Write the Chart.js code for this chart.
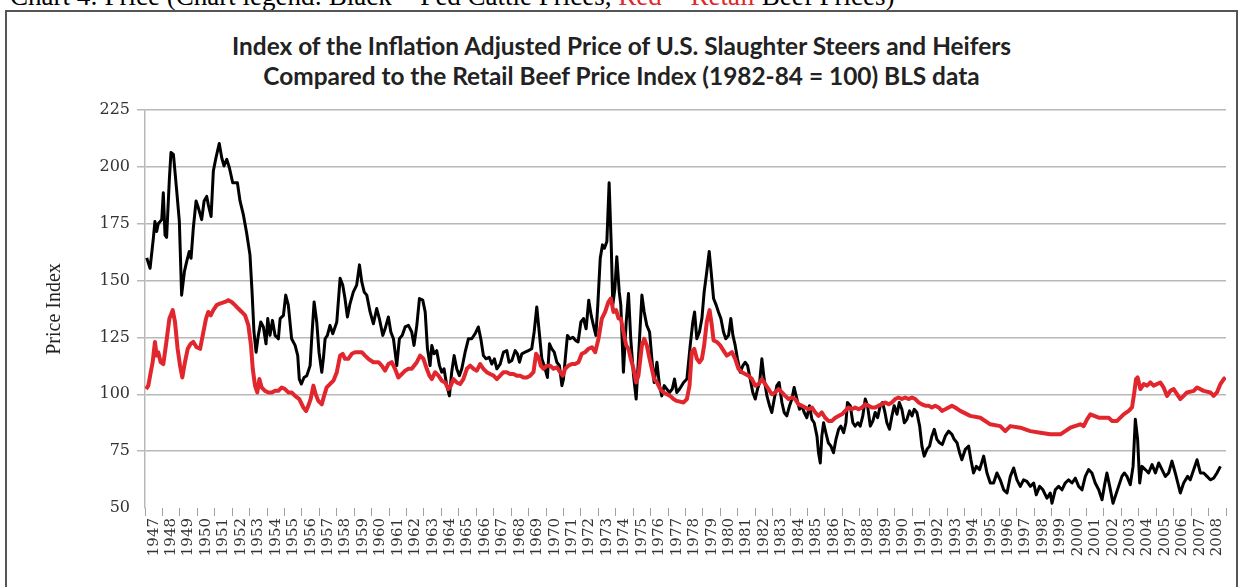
<!DOCTYPE html>
<html><head><meta charset="utf-8">
<script src="https://cdn.jsdelivr.net/npm/chart.js@4.4.0/dist/chart.umd.min.js"></script>
<style>
html,body{margin:0;padding:0;background:#fff;width:1243px;height:587px;overflow:hidden;position:relative;}
#topline{position:absolute;left:10px;top:-19px;font:27px "Liberation Serif";white-space:nowrap;color:#000;}
#topline .r{color:#e2262d;}
#frame{position:absolute;left:5px;top:10px;width:1233px;height:620px;border:2px solid #555;box-sizing:border-box;}
#title{position:absolute;left:0;width:1243px;top:31px;text-align:center;font:700 24.4px Lato;color:#222;line-height:30px;}
#c{position:absolute;left:0;top:0;}
</style></head>
<body>
<div id="topline">Chart 4: Price (Chart legend: Black = Fed Cattle Prices, <span class="r">Red = Retail</span> Beef Prices)</div>
<div id="frame"></div>
<div id="title">Index of the Inflation Adjusted Price of U.S. Slaughter Steers and Heifers<br>Compared to the Retail Beef Price Index (1982-84 = 100) BLS data</div>
<canvas id="c" width="1243" height="587"></canvas>
<script>
const yearLabels = [];
for (let y = 1947; y <= 2008; y++) yearLabels.push(String(y));
const yTicks = [50, 75, 100, 125, 150, 175, 200, 225];

// Black series: inflation adjusted price of slaughter steers and heifers
const fedYears = [1947.10,1947.29,1947.48,1947.57,1947.67,1947.76,1947.96,1948.05,1948.15,1948.24,1948.40,1948.49,1948.63,1948.82,1948.97,1949.10,1949.26,1949.39,1949.54,1949.64,1949.77,1949.93,1950.06,1950.25,1950.39,1950.54,1950.63,1950.79,1950.92,1951.07,1951.26,1951.40,1951.53,1951.69,1951.84,1952.03,1952.30,1952.45,1952.64,1952.83,1953.02,1953.14,1953.25,1953.37,1953.50,1953.64,1953.79,1953.94,1954.04,1954.17,1954.31,1954.46,1954.65,1954.75,1954.94,1955.07,1955.22,1955.41,1955.61,1955.76,1955.85,1955.97,1956.12,1956.28,1956.47,1956.56,1956.70,1956.85,1956.98,1957.14,1957.23,1957.33,1957.46,1957.61,1957.77,1958.00,1958.19,1958.34,1958.47,1958.61,1958.76,1958.95,1959.14,1959.30,1959.43,1959.57,1959.72,1959.91,1960.10,1960.29,1960.44,1960.64,1960.77,1960.96,1961.10,1961.25,1961.44,1961.59,1961.75,1961.92,1962.11,1962.30,1962.43,1962.59,1962.74,1962.93,1963.07,1963.20,1963.35,1963.45,1963.58,1963.73,1963.89,1964.02,1964.15,1964.31,1964.46,1964.59,1964.73,1964.88,1965.03,1965.17,1965.36,1965.55,1965.74,1965.93,1966.12,1966.26,1966.41,1966.56,1966.74,1966.89,1967.04,1967.18,1967.37,1967.56,1967.75,1967.88,1968.04,1968.23,1968.36,1968.48,1968.61,1968.80,1968.99,1969.18,1969.32,1969.47,1969.61,1969.76,1969.95,1970.08,1970.20,1970.33,1970.47,1970.62,1970.77,1970.91,1971.00,1971.12,1971.23,1971.38,1971.54,1971.69,1971.84,1972.00,1972.15,1972.30,1972.45,1972.59,1972.72,1972.86,1972.97,1973.11,1973.24,1973.35,1973.49,1973.62,1973.74,1973.83,1973.95,1974.06,1974.20,1974.29,1974.44,1974.60,1974.73,1974.86,1975.02,1975.17,1975.30,1975.50,1975.63,1975.78,1975.94,1976.07,1976.20,1976.36,1976.51,1976.64,1976.78,1976.93,1977.08,1977.24,1977.37,1977.50,1977.66,1977.89,1978.08,1978.27,1978.42,1978.52,1978.65,1978.80,1978.94,1979.07,1979.22,1979.36,1979.47,1979.61,1979.76,1979.89,1980.03,1980.18,1980.31,1980.47,1980.60,1980.72,1980.85,1980.98,1981.14,1981.29,1981.42,1981.56,1981.71,1981.86,1982.00,1982.13,1982.25,1982.38,1982.51,1982.67,1982.82,1982.95,1983.09,1983.24,1983.37,1983.53,1983.66,1983.81,1983.97,1984.10,1984.23,1984.39,1984.54,1984.67,1984.81,1984.96,1985.11,1985.25,1985.38,1985.54,1985.63,1985.73,1985.82,1985.92,1986.05,1986.19,1986.34,1986.49,1986.63,1986.78,1986.91,1987.07,1987.20,1987.29,1987.45,1987.60,1987.73,1987.89,1988.02,1988.17,1988.31,1988.44,1988.60,1988.75,1988.88,1989.02,1989.17,1989.30,1989.44,1989.55,1989.70,1989.84,1989.97,1990.13,1990.26,1990.41,1990.55,1990.70,1990.85,1990.99,1991.12,1991.27,1991.43,1991.56,1991.69,1991.85,1992.00,1992.13,1992.27,1992.42,1992.57,1992.73,1992.90,1993.09,1993.28,1993.41,1993.57,1993.72,1993.85,1994.05,1994.24,1994.37,1994.52,1994.68,1994.87,1995.10,1995.29,1995.48,1995.67,1995.86,1996.05,1996.25,1996.44,1996.63,1996.82,1997.01,1997.20,1997.39,1997.58,1997.78,1997.97,1998.12,1998.31,1998.50,1998.73,1998.92,1999.02,1999.21,1999.40,1999.59,1999.78,1999.97,2000.17,2000.36,2000.55,2000.74,2000.93,2001.12,2001.31,2001.50,2001.70,2001.89,2002.02,2002.17,2002.33,2002.52,2002.65,2002.84,2003.03,2003.17,2003.32,2003.51,2003.67,2003.80,2003.93,2004.05,2004.18,2004.37,2004.56,2004.76,2004.95,2005.14,2005.33,2005.52,2005.71,2005.90,2006.09,2006.38,2006.57,2006.80,2006.95,2007.15,2007.34,2007.53,2007.72,2007.91,2008.10,2008.29,2008.48,2008.68];
const fedValues = [160,155.4,168.7,176,171.6,175,176.8,188.6,170,169,195,206.3,205.5,189.3,176,143.6,153.9,158.3,162.8,159.8,173,185,182,176.8,185,187,183.4,178.2,198.2,204,210.3,204,200.4,203.3,199.6,193,193,185,179,170.9,161.3,145,127.4,118.5,125.9,131.8,129.6,122.2,133.3,125.9,132.5,125.9,124.4,133.3,134.7,143.6,139.2,124.4,121.5,117,106.7,104.5,107.4,108.2,112.6,124.4,140.6,131.8,118.5,109.7,115.6,124.4,125.9,130.3,126.6,131.8,151,148,142.1,134,139.9,145,148,156.9,149.5,145,143.6,136.2,131,137.7,133.3,125.9,128.8,134,127.4,124.4,112.6,124.4,125.9,129.6,130.3,127.4,121.5,130.3,142.1,141.4,136.2,120,112.6,121.5,117.8,119.2,112.6,109.7,111.2,103.8,99.3,109.7,117,111.2,108.2,111.2,118.5,124.4,124.4,126.6,129.6,124.4,117,115.6,116.3,113.3,115.6,111.2,113.3,118.5,119.2,114.1,114.9,119.2,117.8,114.1,117.8,118.5,119.2,120,127.4,138.4,127.4,115.6,111.2,107.4,122.2,120,118.5,114.1,112.6,103.8,106.7,117,125.9,124.4,125.1,123.7,123,131.8,133.3,128.8,141.4,134.7,130.3,125.9,139.2,159.8,165.7,164.2,167.2,193,165.7,139.2,146.5,160.5,145,139.2,109.7,131.8,144.3,124.4,108.2,97.9,115.6,143.6,136.2,130.3,127.4,115.6,105.2,114.1,103.8,99.3,103.8,102.3,100.8,102.3,106.7,100.8,102.3,105.2,106.7,121.5,131.8,136.2,124.4,127.4,133.3,145,153.9,162.8,153.9,142.1,139.2,136.2,133.3,127.4,124.4,125.9,133.3,125.9,121.5,115.6,109.7,112.6,114.1,112.6,106.7,100.8,97.9,102.3,105.2,115.6,106.7,99.3,95,92,97.9,103.8,105.2,96.4,92,90.5,95,97.9,103,97.9,93.4,95,92,89.7,95,89,87.5,81.6,74.3,69.8,81.6,87.5,83.1,78.7,77.2,74.3,80.2,84.6,86,83.1,87.5,96.4,95,87.5,86,87.5,86,90.5,97.9,95,86,88.3,92,89.7,95,96.4,92,87.5,84.6,90.5,95,91.2,96.4,93.4,87.5,89,92.7,90.5,93.4,92,86,77.2,72.8,75.8,77.2,81.6,84.6,80.2,78.7,77.9,81.6,83.8,82.4,80.2,78.7,74.3,71.2,75.8,77.2,71.2,65.4,68.3,66.9,72.8,65.4,61,61,65.4,62.4,58,56.6,63.9,67.6,62.4,59.5,62.4,61.7,59.5,61,55.8,59.5,58,54.3,56.6,52.1,58,59.5,58,61,62.4,61,63.1,59.5,58,63.9,66.9,65.4,61,58,53.6,59.5,65.4,59.5,52.1,55.1,59.5,63.9,65.4,63.9,60.2,68.3,89,80.2,61,68.3,66.9,65.4,69.1,65.4,69.8,66.9,63.9,65.4,70.6,65.4,56.6,61,63.9,62.4,66.9,71.2,65.4,65.4,63.9,62.4,63.1,65.4,68.3];

// Red series: retail beef price index
const retailYears = [1947.06,1947.19,1947.33,1947.44,1947.57,1947.67,1947.76,1947.90,1948.05,1948.20,1948.40,1948.59,1948.72,1948.87,1949.01,1949.14,1949.29,1949.45,1949.62,1949.77,1949.96,1950.16,1950.35,1950.50,1950.63,1950.77,1950.92,1951.11,1951.30,1951.59,1951.78,1951.97,1952.16,1952.35,1952.55,1952.74,1952.93,1953.08,1953.18,1953.31,1953.44,1953.56,1953.69,1953.88,1954.08,1954.27,1954.46,1954.65,1954.84,1955.03,1955.22,1955.41,1955.61,1955.85,1956.08,1956.24,1956.37,1956.50,1956.66,1956.79,1956.94,1957.14,1957.27,1957.42,1957.61,1957.81,1958.00,1958.19,1958.34,1958.47,1958.66,1958.86,1959.05,1959.24,1959.43,1959.62,1959.81,1960.10,1960.39,1960.58,1960.77,1960.96,1961.15,1961.34,1961.53,1961.73,1961.92,1962.11,1962.30,1962.59,1962.78,1962.97,1963.16,1963.31,1963.45,1963.64,1963.83,1964.02,1964.21,1964.40,1964.54,1964.69,1964.88,1965.07,1965.26,1965.46,1965.65,1965.84,1966.03,1966.22,1966.41,1966.60,1966.79,1966.99,1967.18,1967.37,1967.56,1967.75,1967.94,1968.13,1968.32,1968.52,1968.71,1968.90,1969.09,1969.28,1969.43,1969.57,1969.70,1969.85,1970.05,1970.24,1970.43,1970.62,1970.81,1970.96,1971.10,1971.29,1971.48,1971.67,1971.86,1972.05,1972.24,1972.44,1972.63,1972.82,1973.01,1973.20,1973.39,1973.58,1973.72,1973.87,1974.02,1974.16,1974.29,1974.44,1974.60,1974.73,1974.86,1975.02,1975.17,1975.30,1975.50,1975.63,1975.78,1975.94,1976.07,1976.20,1976.36,1976.55,1976.74,1976.93,1977.12,1977.31,1977.50,1977.89,1978.08,1978.23,1978.36,1978.50,1978.65,1978.80,1978.94,1979.07,1979.22,1979.38,1979.51,1979.61,1979.80,1979.99,1980.18,1980.37,1980.52,1980.66,1980.85,1981.04,1981.23,1981.42,1981.61,1981.81,1982.00,1982.19,1982.38,1982.57,1982.76,1982.95,1983.14,1983.34,1983.53,1983.72,1983.91,1984.10,1984.29,1984.48,1984.67,1984.87,1985.06,1985.25,1985.44,1985.63,1985.82,1986.01,1986.20,1986.40,1986.59,1986.78,1986.97,1987.16,1987.35,1987.54,1987.73,1987.93,1988.12,1988.31,1988.50,1988.69,1988.88,1989.07,1989.26,1989.46,1989.65,1989.84,1990.03,1990.22,1990.41,1990.60,1990.79,1990.99,1991.18,1991.37,1991.56,1991.75,1991.94,1992.13,1992.32,1992.52,1992.71,1992.90,1993.09,1993.28,1993.47,1993.76,1994.33,1994.91,1995.48,1996.05,1996.34,1996.63,1997.20,1997.78,1998.35,1998.92,1999.50,1999.78,2000.07,2000.64,2000.84,2001.03,2001.22,2001.70,2002.27,2002.46,2002.75,2003.13,2003.42,2003.61,2003.74,2003.84,2003.93,2004.09,2004.28,2004.47,2004.66,2004.85,2005.23,2005.42,2005.62,2005.81,2006.00,2006.38,2006.57,2006.76,2007.15,2007.34,2007.72,2008.10,2008.29,2008.48,2008.68,2008.87,2008.97];
const retailValues = [102.3,103.8,109.7,114.1,123,117,118.5,114.1,113.3,121.5,133.3,137,131.8,120,112.6,107.4,114.1,120,122.2,123,120.7,120,127.4,133.3,136.2,134.7,137,139.2,139.9,140.6,141.4,140.6,139.2,137.7,136.2,134.7,130.3,121.5,111.2,103.8,100.8,106.7,103,101.5,100.8,100.8,101.5,101.5,103,102.3,100.8,100.8,99.3,97.9,94.2,92.7,95,97.9,103.8,100,97.1,95.6,99.3,103,104.5,106,109.7,117,117.8,115.6,115.6,117.8,118.5,118.5,118.5,117,115.6,114.1,114.1,112.6,110.4,113.3,114.1,111.2,107.4,108.9,110.4,111.2,111.2,114.1,117,115.6,111.2,108.2,106.7,109.7,108.2,106,105.2,102.3,103.8,106.7,105.2,104.5,106.7,111.2,112.6,111.2,110.4,113.3,111.2,109.7,108.9,108.2,106.7,108.2,109.7,109.7,108.9,108.9,108.2,108.2,107.4,107.4,108.2,109.7,117.8,116.3,112.6,111.2,112.6,112.6,111.2,111.9,109.7,108.2,111.2,112.6,113.3,113.3,114.1,117.8,118.5,120,120.7,118.5,124.4,133.3,136.2,140.6,142.1,136.2,137,133.3,133.3,127.4,121.5,120,115.6,111.2,105.2,108.2,121.5,124.4,121.5,115.6,111.2,106.7,105.2,102.3,100.8,100,99.3,97.9,97.1,96.4,97.9,103.8,118.5,120,115.6,114.1,115.6,121.5,131.8,137,130.3,123.7,123,121.5,119.2,117,117.8,118.5,115.6,111.2,109.7,108.9,108.2,106.7,103.8,104.5,106.7,104.5,102.3,100,100.8,102.3,100.8,99.3,97.9,98.6,97.9,95.6,95,94.2,93.4,94.2,92,90.5,92,89.7,88.3,88.3,89.7,90.5,91.2,92.7,94.2,93.4,94.2,93.4,94.2,95.6,95,94.2,94.2,95,95.6,96.4,95.6,96.4,97.9,98.6,97.9,98.6,97.9,98.6,97.9,96.4,95.6,95,95,94.2,95,94.2,92.7,93.4,94.2,95,94.2,92.7,90.5,89.7,86.8,86,83.8,86,85.3,83.8,83.1,82.4,82.4,83.8,85.3,86.8,86,89,91.2,89.7,89.7,88.3,88.3,91.2,92.7,94.2,100.8,106.7,107.4,102.3,104.5,103.8,105.2,103.8,105.2,103,99.3,101.5,102.3,97.9,99.3,100.8,101.5,103,101.5,100.8,99.3,100.8,104.5,106.7,107.4];

const toPoints = (xs, ys) => xs.map((x, i) => ({x: x, y: ys[i]}));
const GRID = '#b8b8b8';

new Chart(document.getElementById('c'), {
  type: 'line',
  data: {
    datasets: [
      {label: 'Retail beef price index', data: toPoints(retailYears, retailValues), xAxisID: 'xd', yAxisID: 'y',
       borderColor: '#e2262d', borderWidth: 4, pointRadius: 0, tension: 0, order: 0, borderJoinStyle: 'round'},
      {label: 'Slaughter steers and heifers', data: toPoints(fedYears, fedValues), xAxisID: 'xd', yAxisID: 'y',
       borderColor: '#000000', borderWidth: 3, pointRadius: 0, tension: 0, order: 1, borderJoinStyle: 'round'}
    ]
  },
  options: {
    responsive: false, animation: false, devicePixelRatio: 1,
    layout: {padding: {left: 43, right: 17, top: 110, bottom: 0}},
    plugins: {legend: {display: false}, tooltip: {enabled: false}, title: {display: false}},
    scales: {
      x: {type: 'category', labels: yearLabels, offset: true, position: 'bottom',
          grid: {offset: true, drawOnChartArea: false, drawTicks: true, tickLength: 8, color: '#a0a0a0', lineWidth: 1},
          border: {display: false},
          ticks: {autoSkip: false, maxRotation: 90, minRotation: 90, padding: 2, color: '#333',
                  font: {family: 'DejaVu Serif', size: 15}},
          afterFit: s => { s.height = 587 - 508; }},
      xd: {type: 'linear', display: false, min: 1947, max: 2009},
      y: {type: 'linear', min: 50, max: 225,
          afterBuildTicks: s => { s.ticks = yTicks.map(v => ({value: v})); },
          ticks: {padding: 7, color: '#333', font: {family: 'DejaVu Serif', size: 16}},
          grid: {color: c => (c.tick && c.tick.value === 50) ? 'rgba(0,0,0,0)' : GRID, lineWidth: 1.5, tickLength: 8},
          border: {display: true, color: GRID, width: 1.5},
          title: {display: true, text: 'Price Index', color: '#222', font: {family: 'Liberation Serif', size: 20}, padding: {top: 0, bottom: 0}},
          afterFit: s => { s.width = 102; }}
    }
  }
});
</script>
</body></html>
